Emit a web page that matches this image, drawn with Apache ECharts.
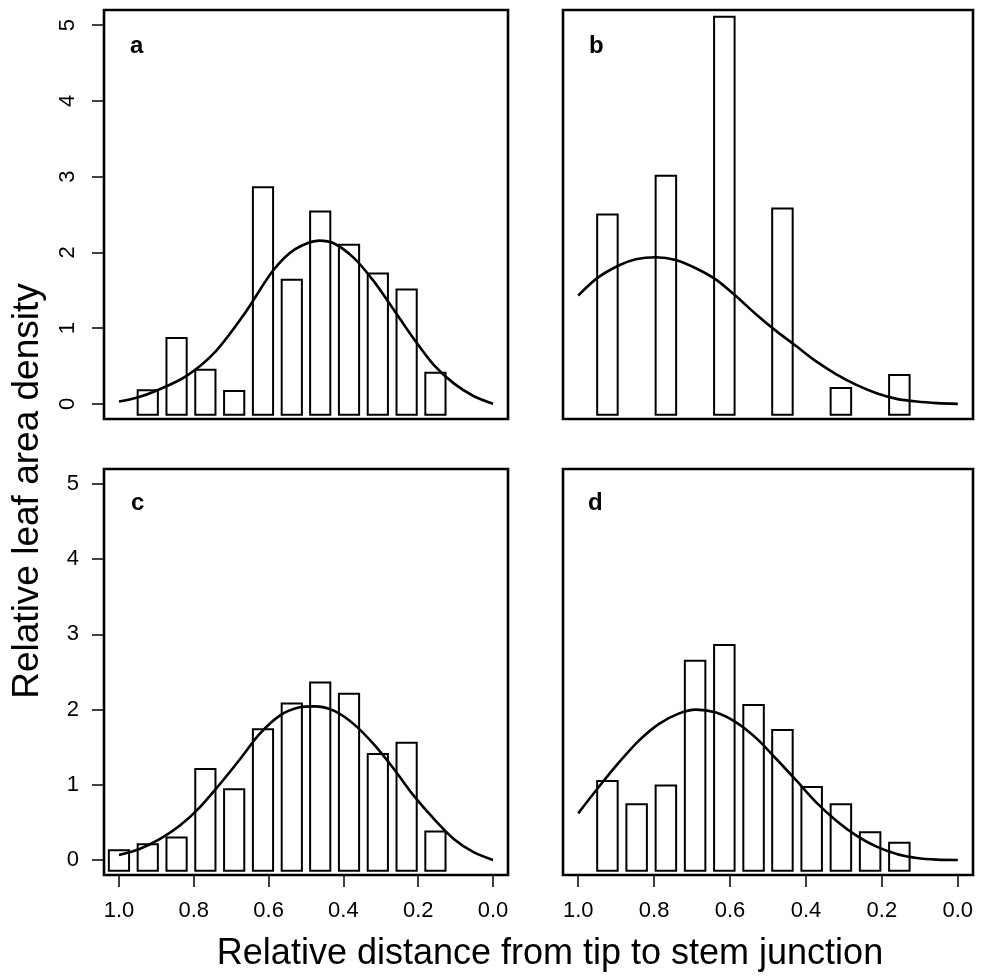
<!DOCTYPE html>
<html><head><meta charset="utf-8">
<script src="https://cdn.jsdelivr.net/npm/echarts@6/dist/echarts.min.js"></script>
<style>html,body{margin:0;padding:0;background:#fff}#c{width:989px;height:976px}</style>
</head><body><div id="c"></div>
<script>
// ---- data ----
const xTicks = [1.0, 0.8, 0.6, 0.4, 0.2, 0.0];
const yTicks = [0, 1, 2, 3, 4, 5];
const panelLetters = ['a', 'b', 'c', 'd'];
const yTitle = 'Relative leaf area density';
const xTitle = 'Relative distance from tip to stem junction';

const barsA_x = [0.923, 0.846, 0.769, 0.692, 0.615, 0.538, 0.462, 0.385, 0.308, 0.231, 0.154];
const barsA_y = [0.18, 0.87, 0.45, 0.17, 2.86, 1.64, 2.54, 2.10, 1.72, 1.51, 0.41];
const barsB_x = [0.923, 0.769, 0.615, 0.462, 0.308, 0.154];
const barsB_y = [2.50, 3.01, 5.11, 2.58, 0.21, 0.38];
const barsC_x = [1.000, 0.923, 0.846, 0.769, 0.692, 0.615, 0.538, 0.462, 0.385, 0.308, 0.231, 0.154];
const barsC_y = [0.13, 0.21, 0.30, 1.21, 0.94, 1.74, 2.08, 2.36, 2.21, 1.41, 1.56, 0.38];
const barsD_x = [0.923, 0.846, 0.769, 0.692, 0.615, 0.538, 0.462, 0.385, 0.308, 0.231, 0.154];
const barsD_y = [1.05, 0.74, 0.99, 2.65, 2.86, 2.06, 1.73, 0.97, 0.74, 0.37, 0.23];

const curveA_x = [1.0, 0.953, 0.897, 0.819, 0.742, 0.663, 0.588, 0.53, 0.464, 0.426, 0.373, 0.319, 0.265, 0.212, 0.158, 0.105, 0.051, 0.0];
const curveA_y = [0.03, 0.08, 0.18, 0.37, 0.69, 1.20, 1.76, 2.04, 2.155, 2.12, 1.93, 1.62, 1.24, 0.86, 0.51, 0.27, 0.10, 0.0];
const curveB_x = [1.0, 0.95, 0.892, 0.848, 0.795, 0.743, 0.69, 0.637, 0.584, 0.531, 0.478, 0.425, 0.373, 0.32, 0.267, 0.214, 0.161, 0.108, 0.055, 0.0];
const curveB_y = [1.43, 1.66, 1.83, 1.91, 1.935, 1.90, 1.79, 1.64, 1.42, 1.18, 0.96, 0.76, 0.56, 0.39, 0.25, 0.14, 0.066, 0.03, 0.01, 0.0];
const curveC_x = [1.0, 0.945, 0.89, 0.837, 0.784, 0.73, 0.676, 0.624, 0.57, 0.517, 0.477, 0.426, 0.373, 0.319, 0.265, 0.212, 0.158, 0.105, 0.051, 0.0];
const curveC_y = [0.066, 0.146, 0.28, 0.457, 0.70, 1.01, 1.343, 1.676, 1.92, 2.03, 2.043, 1.986, 1.81, 1.54, 1.21, 0.855, 0.545, 0.28, 0.10, 0.0];
const curveD_x = [1.0, 0.95, 0.892, 0.84, 0.787, 0.734, 0.69, 0.637, 0.584, 0.531, 0.478, 0.425, 0.373, 0.32, 0.267, 0.214, 0.161, 0.108, 0.055, 0.0];
const curveD_y = [0.62, 0.944, 1.30, 1.587, 1.81, 1.95, 2.0, 1.96, 1.83, 1.62, 1.343, 1.055, 0.767, 0.523, 0.324, 0.177, 0.08, 0.027, 0.005, 0.0];

// ---- styling / layout ----
const FONT = '"Liberation Sans", Arial, Helvetica, sans-serif';
const BAR_HALF = 0.027;
const BAR_BASE = -0.143;

const panels = [
  {bx: barsA_x, by: barsA_y, cx: curveA_x, cy: curveA_y, grid: {left: 104, top: 10, width: 404, height: 409}, showX: false, showY: true, yRot: 90},
  {bx: barsB_x, by: barsB_y, cx: curveB_x, cy: curveB_y, grid: {left: 563, top: 10, width: 410, height: 409}, showX: false, showY: false, yRot: 0},
  {bx: barsC_x, by: barsC_y, cx: curveC_x, cy: curveC_y, grid: {left: 104, top: 469, width: 404, height: 406}, showX: true, showY: true, yRot: 0},
  {bx: barsD_x, by: barsD_y, cx: curveD_x, cy: curveD_y, grid: {left: 563, top: 469, width: 410, height: 406}, showX: true, showY: false, yRot: 0}
];

function zip(a, b) { return a.map((v, i) => [v, b[i]]); }

function renderBar(params, api) {
  const x = api.value(0), y = api.value(1);
  const p0 = api.coord([x - BAR_HALF, BAR_BASE]);
  const p1 = api.coord([x + BAR_HALF, y]);
  const left = Math.min(p0[0], p1[0]);
  return {
    type: 'rect',
    shape: {x: left, y: p1[1], width: Math.abs(p1[0] - p0[0]), height: p0[1] - p1[1]},
    style: {fill: 'rgba(0,0,0,0)', stroke: '#000', lineWidth: 2}
  };
}

const grids = [], xAxes = [], yAxes = [], series = [];
panels.forEach((p, i) => {
  grids.push(Object.assign({show: true, borderColor: '#000', borderWidth: 2.6, backgroundColor: 'transparent', containLabel: false}, p.grid));
  xAxes.push({
    type: 'value', gridIndex: i, inverse: true, min: -0.04, max: 1.04, position: 'bottom',
    axisLine: {show: false, onZero: false}, splitLine: {show: false},
    axisTick: {show: p.showX, customValues: xTicks, length: 12, lineStyle: {color: '#000', width: 1.5}},
    axisLabel: {show: p.showX, customValues: xTicks, formatter: v => Number(v).toFixed(1), fontSize: 22, color: '#000', fontFamily: FONT, margin: 25}
  });
  yAxes.push({
    type: 'value', gridIndex: i, min: -0.2, max: 5.2, position: 'left',
    axisLine: {show: false, onZero: false}, splitLine: {show: false},
    axisTick: {show: p.showY, customValues: yTicks, length: 12, lineStyle: {color: '#000', width: 1.5}},
    axisLabel: {show: p.showY, customValues: yTicks, rotate: p.yRot, fontSize: 22, color: '#000', fontFamily: FONT, margin: p.yRot ? 25 : 25}
  });
  series.push({
    type: 'custom', xAxisIndex: i, yAxisIndex: i, renderItem: renderBar,
    encode: {x: 0, y: 1}, data: zip(p.bx, p.by), z: 2, clip: false
  });
  series.push({
    type: 'line', xAxisIndex: i, yAxisIndex: i, data: zip(p.cx, p.cy),
    smooth: 0.3, symbol: 'none', lineStyle: {color: '#000', width: 2.6}, z: 3
  });
});

const letterPos = [[130, 58], [589, 58], [131, 515], [588, 515]];
const graphic = panelLetters.map((t, i) => ({
  type: 'text', x: letterPos[i][0], y: letterPos[i][1],
  style: {text: t, font: 'bold 24px ' + FONT, fill: '#000', textAlign: 'left', textVerticalAlign: 'bottom'}
}));
graphic.push({
  type: 'text', x: 28, y: 491, rotation: Math.PI / 2,
  style: {text: yTitle, font: '37px ' + FONT, fill: '#000', textAlign: 'center', textVerticalAlign: 'middle'}
});
graphic.push({
  type: 'text', x: 550, y: 954,
  style: {text: xTitle, font: '36px ' + FONT, fill: '#000', textAlign: 'center', textVerticalAlign: 'middle'}
});

const chart = echarts.init(document.getElementById('c'), null, {renderer: 'canvas'});
chart.setOption({
  animation: false,
  backgroundColor: '#fff',
  grid: grids, xAxis: xAxes, yAxis: yAxes, series: series, graphic: graphic
});
</script>
</body></html>
